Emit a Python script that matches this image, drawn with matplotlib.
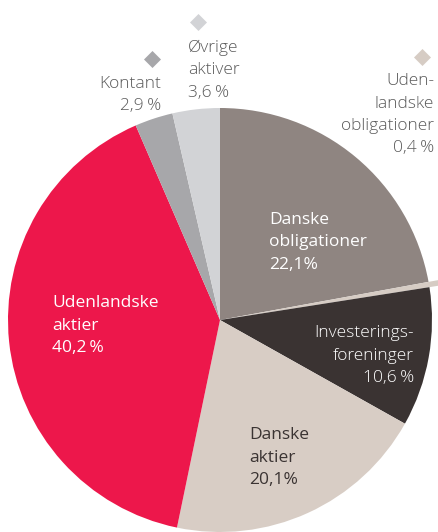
import matplotlib
matplotlib.use("Agg")
import matplotlib.pyplot as plt

# slices, clockwise from 12 o'clock
labels = ["Danske obligationer", "Udenlandske obligationer", "Investeringsforeninger",
          "Danske aktier", "Udenlandske aktier", "Kontant", "Øvrige aktiver"]
shares = [22.1, 0.4, 10.6, 20.1, 40.2, 2.9, 3.6]
colors = ["#8f8581", "#d6ccc4", "#3a3332", "#d8cdc5", "#ed174b", "#a7a7aa", "#d2d3d6"]

W, H = 438, 532
CX, CY, R = 220, 320, 212

plt.rcParams["font.family"] = ["Open Sans", "DejaVu Sans"]

fig = plt.figure(figsize=(W / 100, H / 100), dpi=100)
ax = fig.add_axes([0, 0, 1, 1])

wedges, _ = ax.pie(shares, colors=colors, startangle=90, counterclock=False,
                   center=(CX, H - CY), radius=R, wedgeprops=dict(linewidth=0))
# the small foreign-bond sliver sticks out past the rim
wedges[1].set_radius(R * 1.12)

ax.set_xlim(0, W)
ax.set_ylim(0, H)
ax.set_aspect("equal")
ax.axis("off")


def lines(x, y0, rows, color, ha="left", weight="normal", step=22.5, size=12.5):
    for i, row in enumerate(rows):
        ax.text(x, H - (y0 + i * step), row, ha=ha, va="baseline",
                color=color, fontsize=size, fontweight=weight)


def diamond(x, y, color):
    ax.scatter([x], [H - y], marker="D", s=75, color=color, linewidths=0, zorder=5)


lines(269, 224, ["Danske", "obligationer", "22,1%"], "white")
lines(414, 337, ["Investerings-", "foreninger", "10,6\u2009%"], "white", ha="right", weight="light")
lines(249, 439, ["Danske", "aktier", "20,1%"], "#3a3332")
lines(52, 307, ["Udenlandske", "aktier", "40,2\u2009%"], "white")

grey = "#5a5a5a"
lines(161, 88, ["Kontant", "2,9\u2009%"], grey, ha="right", weight="light")
diamond(152, 59, colors[5])
lines(188, 52, ["Øvrige", "aktiver", "3,6\u2009%"], grey, weight="light")
diamond(198, 22, colors[6])
lines(434, 85, ["Uden-", "landske", "obligationer", "0,4\u2009%"], grey, ha="right", weight="light")
diamond(422, 57, colors[1])

fig.savefig("out.png", dpi=100)
